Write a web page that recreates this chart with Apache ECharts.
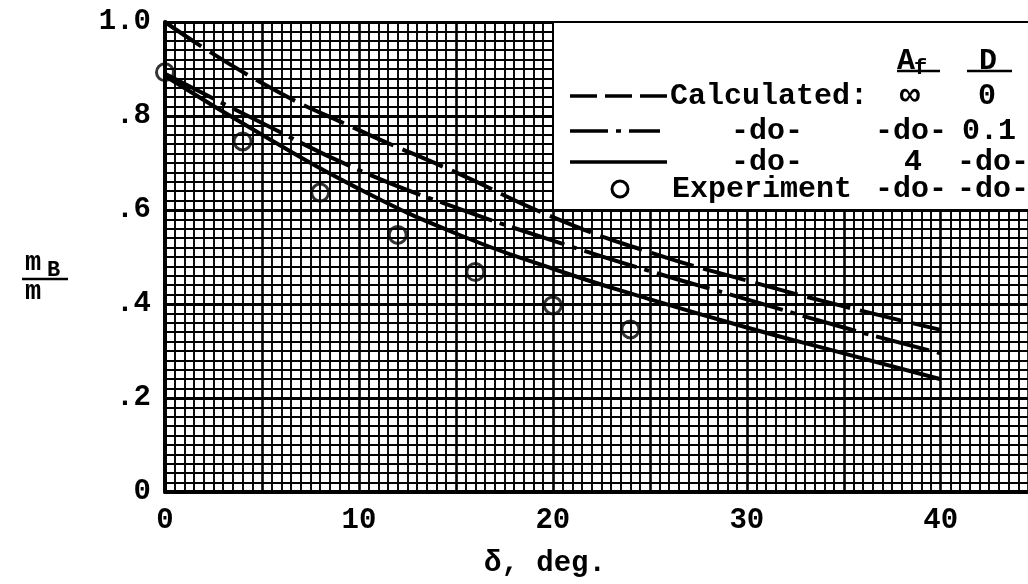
<!DOCTYPE html>
<html>
<head>
<meta charset="utf-8">
<script src="https://cdn.jsdelivr.net/npm/echarts@6/dist/echarts.min.js"></script>
<style>
html,body{margin:0;padding:0;background:#fff;}
#chart{width:1028px;height:584px;}
</style>
</head>
<body>
<div id="chart"></div>
<script>
// ---- data ----
const angles = [0, 5, 10, 15, 20, 25, 30, 35, 40];
const calcInfD0 = [1.00, 0.87, 0.77, 0.68, 0.585, 0.51, 0.45, 0.395, 0.345];
const calcInfD01 = [0.89, 0.785, 0.685, 0.605, 0.535, 0.47, 0.41, 0.35, 0.295];
const calc4D01 = [0.885, 0.76, 0.645, 0.55, 0.475, 0.41, 0.35, 0.295, 0.24];
const expAngles = [0, 4, 8, 12, 16, 20, 24];
const expValues = [0.893, 0.746, 0.637, 0.547, 0.468, 0.397, 0.346];
const xTickLabels = ['0', '10', '20', '30', '40'];
const yTickLabels = ['0', '.2', '.4', '.6', '.8', '1.0'];

const FONT = '"Liberation Mono", "Courier New", monospace';
const pair = (xs, ys) => xs.map((x, i) => [x, ys[i]]);

const chart = echarts.init(document.getElementById('chart'), null, {renderer: 'canvas'});

const legendLeft = 553, legendTop = 22, legendBottom = 210;

const option = {
  animation: false,
  backgroundColor: '#fff',
  grid: {left: 165, top: 22, right: 0, height: 470, show: false},
  xAxis: {
    type: 'value', min: 0, max: 44.5, interval: 5,
    axisLine: {show: true, onZero: false, lineStyle: {color: '#000', width: 4}},
    axisTick: {show: false},
    axisLabel: {
      color: '#000', fontFamily: FONT, fontWeight: 'bold', fontSize: 29, margin: 14,
      showMaxLabel: false,
      formatter: v => { const i = Math.round(v / 10); return (v % 10 === 0 && i < xTickLabels.length) ? xTickLabels[i] : ''; }
    },
    splitLine: {show: true, lineStyle: {color: '#000', width: 2.6}},
    minorTick: {show: false, splitNumber: 10},
    minorSplitLine: {show: true, lineStyle: {color: '#000', width: 1.9}}
  },
  yAxis: {
    type: 'value', min: 0, max: 1.0, interval: 0.2,
    axisLine: {show: true, onZero: false, lineStyle: {color: '#000', width: 4}},
    axisTick: {show: false},
    axisLabel: {
      color: '#000', fontFamily: FONT, fontWeight: 'bold', fontSize: 29, margin: 14,
      formatter: v => yTickLabels[Math.round(v / 0.2)] || ''
    },
    splitLine: {show: true, lineStyle: {color: '#000', width: 3}},
    minorTick: {show: false, splitNumber: 10},
    minorSplitLine: {show: true, lineStyle: {color: '#000', width: 1.9}}
  },
  series: [
    {type: 'line', name: 'Calculated ∞ 0', data: pair(angles, calcInfD0), smooth: true, symbol: 'none', z: 5,
     lineStyle: {color: '#000', width: 4, type: [44, 10]}},
    {type: 'line', name: 'Calculated ∞ 0.1', data: pair(angles, calcInfD01), smooth: true, symbol: 'none', z: 5,
     lineStyle: {color: '#000', width: 4, type: [55, 8, 5, 8]}},
    {type: 'line', name: 'Calculated 4 0.1', data: pair(angles, calc4D01), smooth: true, symbol: 'none', z: 5,
     lineStyle: {color: '#000', width: 4}},
    {type: 'scatter', name: 'Experiment', data: pair(expAngles, expValues), symbol: 'circle', symbolSize: 17, z: 6,
     itemStyle: {color: 'rgba(255,255,255,0)', borderColor: '#000', borderWidth: 3}}
  ],
  graphic: [
    // legend box
    {type: 'rect', z: 20, shape: {x: legendLeft, y: legendTop, width: 1028 - legendLeft + 10, height: legendBottom - legendTop},
     style: {fill: '#fff', stroke: '#000', lineWidth: 2}},
    // headers
    {type: 'text', z: 21, x: 897, y: 61, style: {text: 'A', font: 'bold 30px ' + FONT, fill: '#000', verticalAlign: 'middle'}},
    {type: 'text', z: 21, x: 914, y: 68, style: {text: 'f', font: 'bold 22px ' + FONT, fill: '#000', verticalAlign: 'middle'}},
    {type: 'line', z: 21, shape: {x1: 897, y1: 71, x2: 940, y2: 71}, style: {stroke: '#000', lineWidth: 2.5}},
    {type: 'text', z: 21, x: 979, y: 61, style: {text: 'D', font: 'bold 30px ' + FONT, fill: '#000', verticalAlign: 'middle'}},
    {type: 'line', z: 21, shape: {x1: 967, y1: 71, x2: 1012, y2: 71}, style: {stroke: '#000', lineWidth: 2.5}},
    // row 1
    {type: 'line', z: 21, shape: {x1: 570, y1: 96, x2: 669, y2: 96}, style: {stroke: '#000', lineWidth: 3.5, lineDash: [27, 8]}},
    {type: 'text', z: 21, x: 670, y: 96, style: {text: 'Calculated:', font: 'bold 30px ' + FONT, fill: '#000', verticalAlign: 'middle'}},
    {type: 'text', z: 21, x: 910, y: 96, style: {text: '∞', font: 'bold 34px ' + FONT, fill: '#000', verticalAlign: 'middle', align: 'center'}},
    {type: 'text', z: 21, x: 987, y: 96, style: {text: '0', font: 'bold 30px ' + FONT, fill: '#000', verticalAlign: 'middle', align: 'center'}},
    // row 2
    {type: 'line', z: 21, shape: {x1: 570, y1: 131, x2: 660, y2: 131}, style: {stroke: '#000', lineWidth: 3.5, lineDash: [38, 8, 5, 8]}},
    {type: 'text', z: 21, x: 767, y: 131, style: {text: '-do-', font: 'bold 30px ' + FONT, fill: '#000', verticalAlign: 'middle', align: 'center'}},
    {type: 'text', z: 21, x: 911, y: 131, style: {text: '-do-', font: 'bold 30px ' + FONT, fill: '#000', verticalAlign: 'middle', align: 'center'}},
    {type: 'text', z: 21, x: 989, y: 131, style: {text: '0.1', font: 'bold 30px ' + FONT, fill: '#000', verticalAlign: 'middle', align: 'center'}},
    // row 3
    {type: 'line', z: 21, shape: {x1: 570, y1: 162, x2: 667, y2: 162}, style: {stroke: '#000', lineWidth: 3.5}},
    {type: 'text', z: 21, x: 767, y: 162, style: {text: '-do-', font: 'bold 30px ' + FONT, fill: '#000', verticalAlign: 'middle', align: 'center'}},
    {type: 'text', z: 21, x: 913, y: 162, style: {text: '4', font: 'bold 30px ' + FONT, fill: '#000', verticalAlign: 'middle', align: 'center'}},
    {type: 'text', z: 21, x: 993, y: 162, style: {text: '-do-', font: 'bold 30px ' + FONT, fill: '#000', verticalAlign: 'middle', align: 'center'}},
    // row 4
    {type: 'circle', z: 21, shape: {cx: 620, cy: 189, r: 8}, style: {fill: 'none', stroke: '#000', lineWidth: 3}},
    {type: 'text', z: 21, x: 672, y: 189, style: {text: 'Experiment', font: 'bold 30px ' + FONT, fill: '#000', verticalAlign: 'middle'}},
    {type: 'text', z: 21, x: 911, y: 189, style: {text: '-do-', font: 'bold 30px ' + FONT, fill: '#000', verticalAlign: 'middle', align: 'center'}},
    {type: 'text', z: 21, x: 993, y: 189, style: {text: '-do-', font: 'bold 30px ' + FONT, fill: '#000', verticalAlign: 'middle', align: 'center'}},
    // y-axis title (fraction)
    {type: 'text', z: 21, x: 25, y: 263, style: {text: 'm', font: 'bold 27px ' + FONT, fill: '#000', verticalAlign: 'middle'}},
    {type: 'text', z: 21, x: 47, y: 270, style: {text: 'B', font: 'bold 22px ' + FONT, fill: '#000', verticalAlign: 'middle'}},
    {type: 'line', z: 21, shape: {x1: 22, y1: 279, x2: 68, y2: 279}, style: {stroke: '#000', lineWidth: 2.5}},
    {type: 'text', z: 21, x: 25, y: 292, style: {text: 'm', font: 'bold 27px ' + FONT, fill: '#000', verticalAlign: 'middle'}},
    // x-axis title
    {type: 'text', z: 21, x: 545, y: 564, style: {text: 'δ, deg.', font: 'bold 29px ' + FONT, fill: '#000', verticalAlign: 'middle', align: 'center'}}
  ]
};
chart.setOption(option);
</script>
</body>
</html>
